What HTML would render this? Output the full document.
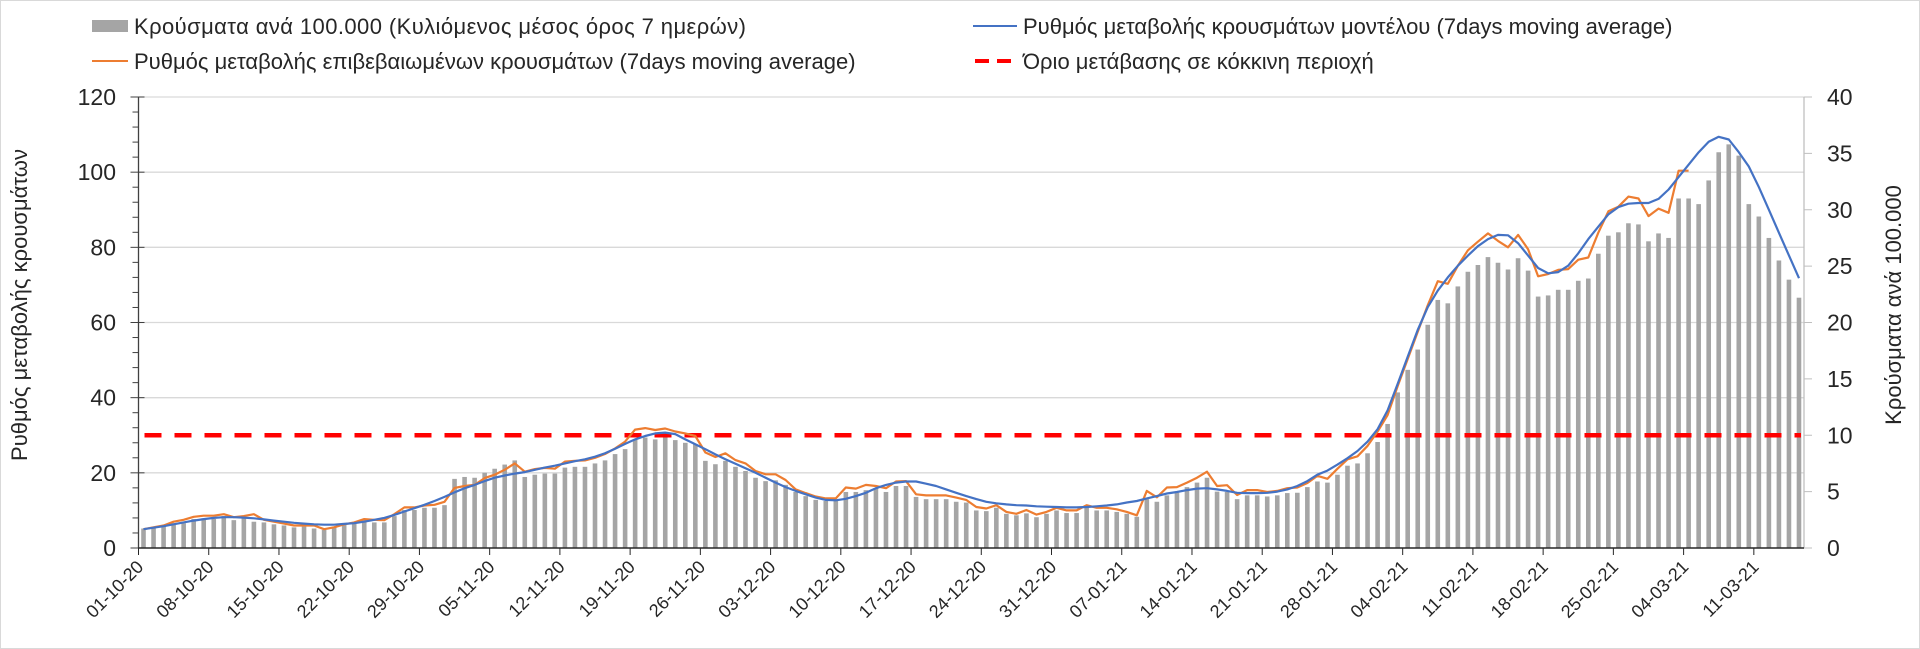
<!DOCTYPE html>
<html><head><meta charset="utf-8">
<style>
html,body{margin:0;padding:0;background:#fff;}
#wrap{position:relative;width:1920px;height:649px;overflow:hidden;box-sizing:border-box;border:1px solid #d9d9d9;}
svg text{font-family:"Liberation Sans",sans-serif;fill:#262626;}
</style></head>
<body>
<div id="wrap">
<svg id="chart" width="1920" height="649" xmlns="http://www.w3.org/2000/svg">
  <g>
    <g>
      <rect x="91" y="19" width="36" height="12" fill="#a5a5a5"/>
      <text x="133" y="33" font-size="22" textLength="612" lengthAdjust="spacing">Κρούσματα ανά 100.000 (Κυλιόμενος μέσος όρος 7 ημερών)</text>
    </g>
    <g>
      <line x1="91" y1="60" x2="127" y2="60" stroke="#ed7d31" stroke-width="2"/>
      <text x="133" y="68" font-size="22">Ρυθμός μεταβολής επιβεβαιωμένων κρουσμάτων (7days moving average)</text>
    </g>
    <g>
      <line x1="972" y1="25" x2="1016" y2="25" stroke="#4472c4" stroke-width="2"/>
      <text x="1022" y="33" font-size="22">Ρυθμός μεταβολής κρουσμάτων μοντέλου (7days moving average)</text>
    </g>
    <g>
      <line x1="974" y1="60" x2="1016" y2="60" stroke="#ff0000" stroke-width="4" stroke-dasharray="14,8"/>
      <text x="1022" y="68" font-size="22">Όριο μετάβασης σε κόκκινη περιοχή</text>
    </g>
  </g>
  <g id="grid"></g>
  <g id="bars"></g>
  <g id="axes"></g>
  <g id="lines"></g>
  <text x="0" y="0" font-size="22" text-anchor="middle" transform="translate(26,304) rotate(-90)">Ρυθμός μεταβολής κρουσμάτων</text>
  <text x="0" y="0" font-size="22" text-anchor="middle" transform="translate(1900,304) rotate(-90)">Κρούσματα ανά 100.000</text>
</svg>
</div>
<script>
const dateLabels = ["01-10-20","08-10-20","15-10-20","22-10-20","29-10-20","05-11-20","12-11-20","19-11-20","26-11-20","03-12-20","10-12-20","17-12-20","24-12-20","31-12-20","07-01-21","14-01-21","21-01-21","28-01-21","04-02-21","11-02-21","18-02-21","25-02-21","04-03-21","11-03-21"];
const leftTicks = [0,20,40,60,80,100,120];
const rightTicks = [0,5,10,15,20,25,30,35,40];
const threshold = 30;
const cases = [1.73,1.83,2,2.2,2.2,2.57,2.63,2.57,2.83,2.47,2.63,2.33,2.27,2.1,2,1.83,1.9,1.73,1.6,1.9,2.1,2.2,2.47,2.27,2.27,2.83,3.37,3.37,3.57,3.57,3.8,6.13,6.3,6.23,6.67,7.03,7.4,7.77,6.3,6.5,6.6,6.6,7.13,7.2,7.2,7.5,7.77,8.33,8.77,9.6,
9.8,9.63,9.93,9.57,9.33,9.2,7.73,7.43,7.73,7.2,6.83,6.23,5.93,6,5.6,4.97,4.6,4.27,4.17,4.23,4.97,4.97,5.13,5.3,4.97,5.5,5.5,4.53,4.33,4.33,4.33,4.1,4.03,
3.33,3.27,3.57,3.03,2.9,3.07,2.73,3.03,3.33,3.1,3.1,3.57,3.33,3.33,3.2,3.03,2.77,4.33,4.1,4.67,4.9,5.4,5.8,6.23,5,4.97,4.33,4.67,4.67,4.57,4.67,4.87,4.9,
5.4,5.9,5.8,6.5,7.3,7.5,8.4,9.4,11,13.8,15.8,17.6,19.8,22,21.7,23.2,24.5,25.1,25.8,25.3,24.7,25.7,24.6,22.3,22.4,22.9,22.9,23.7,23.9,26.1,27.7,28,28.8,28.7,27.2,27.9,27.5,31,31,30.5,32.6,35.1,35.8,34.8,30.5,29.4,27.5,25.5,23.8,22.2];
const modelRate = [5,5.4,5.8,6.3,6.8,7.3,7.7,8,8.2,8.2,8.1,7.9,7.6,7.3,7,6.7,6.5,6.3,6.2,6.2,6.4,6.6,7,7.5,8,8.8,9.7,10.6,11.5,12.5,13.6,14.8,15.9,16.8,17.8,18.7,19.3,19.8,20.2,20.8,21.4,21.9,22.5,23.1,23.6,24.3,25.2,26.4,27.7,28.9,
29.8,30.5,30.7,30.3,28.9,27.6,26.3,24.9,23.6,22.4,21.2,20,18.7,17.4,16.2,15.2,14.3,13.4,12.8,12.7,13.1,13.8,14.7,15.9,16.8,17.4,17.7,17.7,17.1,16.5,15.6,14.7,13.8,
13,12.3,11.9,11.6,11.4,11.3,11.1,11,10.9,10.8,10.8,10.9,11.1,11.3,11.6,12.1,12.5,13.2,13.8,14.5,14.9,15.4,15.8,15.9,15.6,15.2,14.7,14.6,14.6,14.7,15,15.6,16.5,
17.8,19.5,20.6,22.2,23.9,25.8,28.3,31.6,36.6,43.7,50.9,58,64.1,68.5,72,75.1,77.8,80.3,82.2,83.3,83.2,81.1,77.8,74.5,73.1,73.4,75.1,78.4,82.2,85.5,88.8,90.7,91.6,91.8,91.8,92.9,95.4,98.7,102,105.3,108.1,109.4,108.7,105.3,101.5,96,90,83.9,77.8,71.8];
const confirmedRate = [5,5.5,6,7,7.5,8.3,8.6,8.6,9,8.2,8.5,9,7.5,7,6.5,6,6,6,5,5.5,6.3,6.8,7.7,7.5,7.4,9,10.8,10.8,11.3,11.5,12.3,16,16.5,16.8,18.6,19.5,20.8,22.5,20.3,21,21.3,21.1,23,23.2,23.3,24,25,26.5,28.3,31.5,
31.9,31.4,31.8,31,30.5,29.8,25.4,24.2,25.2,23.4,22.5,20.5,19.6,19.6,18.1,15.6,14.6,13.7,13.2,13.2,16.1,15.8,16.8,16.5,15.9,17.7,17.8,14.3,14,14,14,13.4,12.8,
10.9,10.5,11.4,9.6,9.1,10.1,8.9,9.6,10.7,10,10,11.4,10.7,10.7,10.3,9.6,8.7,15.2,13.5,16.1,16.2,17.4,18.7,20.3,16.5,16.7,14.1,15.4,15.4,14.9,15.2,15.9,16.1,
17.3,19.2,18.4,21.1,23.6,24.4,27.2,31,35.4,43.1,50.3,57.5,64.6,71,70.3,75.1,79.2,81.5,83.7,81.7,80,83.3,79.5,72.3,72.9,74,74.2,76.7,77.3,83.9,89.6,90.8,93.5,93,88.3,90.3,89.2,100.4,100.4];

const NS = "http://www.w3.org/2000/svg";
const X0 = 137.5, X1 = 1803, Y0 = 547, YT = 96;
const N = cases.length;
const step = (X1 - X0) / N;
function xBand(i){ return X0 + i * step; }
function xC(i){ return X0 + (i + 0.5) * step; }
function yL(v){ return Y0 - v / 120 * (Y0 - YT); }
function yR(v){ return Y0 - v / 40 * (Y0 - YT); }
function mk(tag, attrs, parent){
  const e = document.createElementNS(NS, tag);
  for (const k in attrs) e.setAttribute(k, attrs[k]);
  parent.appendChild(e);
  return e;
}
const grid = document.getElementById('grid');
const axes = document.getElementById('axes');
const bars = document.getElementById('bars');
const lines = document.getElementById('lines');

leftTicks.forEach(t => {
  if (t > 0) {
    const g = mk('line', {x1:X0, x2:X1, y1:yL(t), y2:yL(t), stroke:'#d9d9d9', 'stroke-width':1.3}, grid);
    
    
  }
  const tk = mk('line', {x1:X0-8, x2:X0+6, y1:yL(t), y2:yL(t), stroke:'#404040', 'stroke-width':1}, axes);
  
  
  const lb = mk('text', {x:115, y:yL(t)+8, 'font-size':23, 'text-anchor':'end'}, axes);
  lb.textContent = t;
  
  
});
for (let v = 4; v < 120; v += 4) {
  if (v % 20 === 0) continue;
  const m = mk('line', {x1:X0-6, x2:X0, y1:yL(v), y2:yL(v), stroke:'#404040', 'stroke-width':1}, axes);
  
  
}
rightTicks.forEach(t => {
  const tk = mk('line', {x1:X1, x2:X1+8, y1:yR(t), y2:yR(t), stroke:'#bfbfbf', 'stroke-width':1}, axes);
  
  
  const lb = mk('text', {x:1826, y:yR(t)+8, 'font-size':23, 'text-anchor':'start'}, axes);
  lb.textContent = t;
  
  
});
let la = mk('line', {x1:X0, x2:X0, y1:YT, y2:Y0, stroke:'#404040', 'stroke-width':1.3}, axes);


let ra = mk('line', {x1:X1, x2:X1, y1:YT, y2:Y0, stroke:'#bfbfbf', 'stroke-width':1.3}, axes);


let xa = mk('line', {x1:X0, x2:X1, y1:Y0, y2:Y0, stroke:'#262626', 'stroke-width':1.5}, axes);



dateLabels.forEach((d, k) => {
  const x = xBand(k * 7);
  const tk = mk('line', {x1:x, x2:x, y1:Y0, y2:Y0+7, stroke:'#262626', 'stroke-width':1}, axes);
  
  
  const lb = mk('text', {x:0, y:0, 'font-size':18, 'text-anchor':'end', transform:`translate(${x+6},${Y0+20}) rotate(-45)`}, axes);
  lb.textContent = d;
  
  
});

const bw = 4.6;
cases.forEach((v, i) => {
  const r = mk('rect', {x:xC(i)-bw/2, y:yR(v), width:bw, height:Y0-yR(v), fill:'#a5a5a5'}, bars);
  
  
});

const th = mk('line', {x1:X0+3, x2:X1-3, y1:yL(threshold), y2:yL(threshold), stroke:'#ff0000', 'stroke-width':4.5, 'stroke-dasharray':'17,13', 'stroke-dashoffset':'-3'}, lines);



function path(arr){ return arr.map((v,i)=>(i?'L':'M')+xC(i).toFixed(1)+' '+yL(v).toFixed(1)).join(' '); }
const po = mk('path', {d:path(confirmedRate), fill:'none', stroke:'#ed7d31', 'stroke-width':2.2, 'stroke-linejoin':'round'}, lines);


const pb = mk('path', {d:path(modelRate), fill:'none', stroke:'#4472c4', 'stroke-width':2.2, 'stroke-linejoin':'round'}, lines);


</script>
</body></html>
